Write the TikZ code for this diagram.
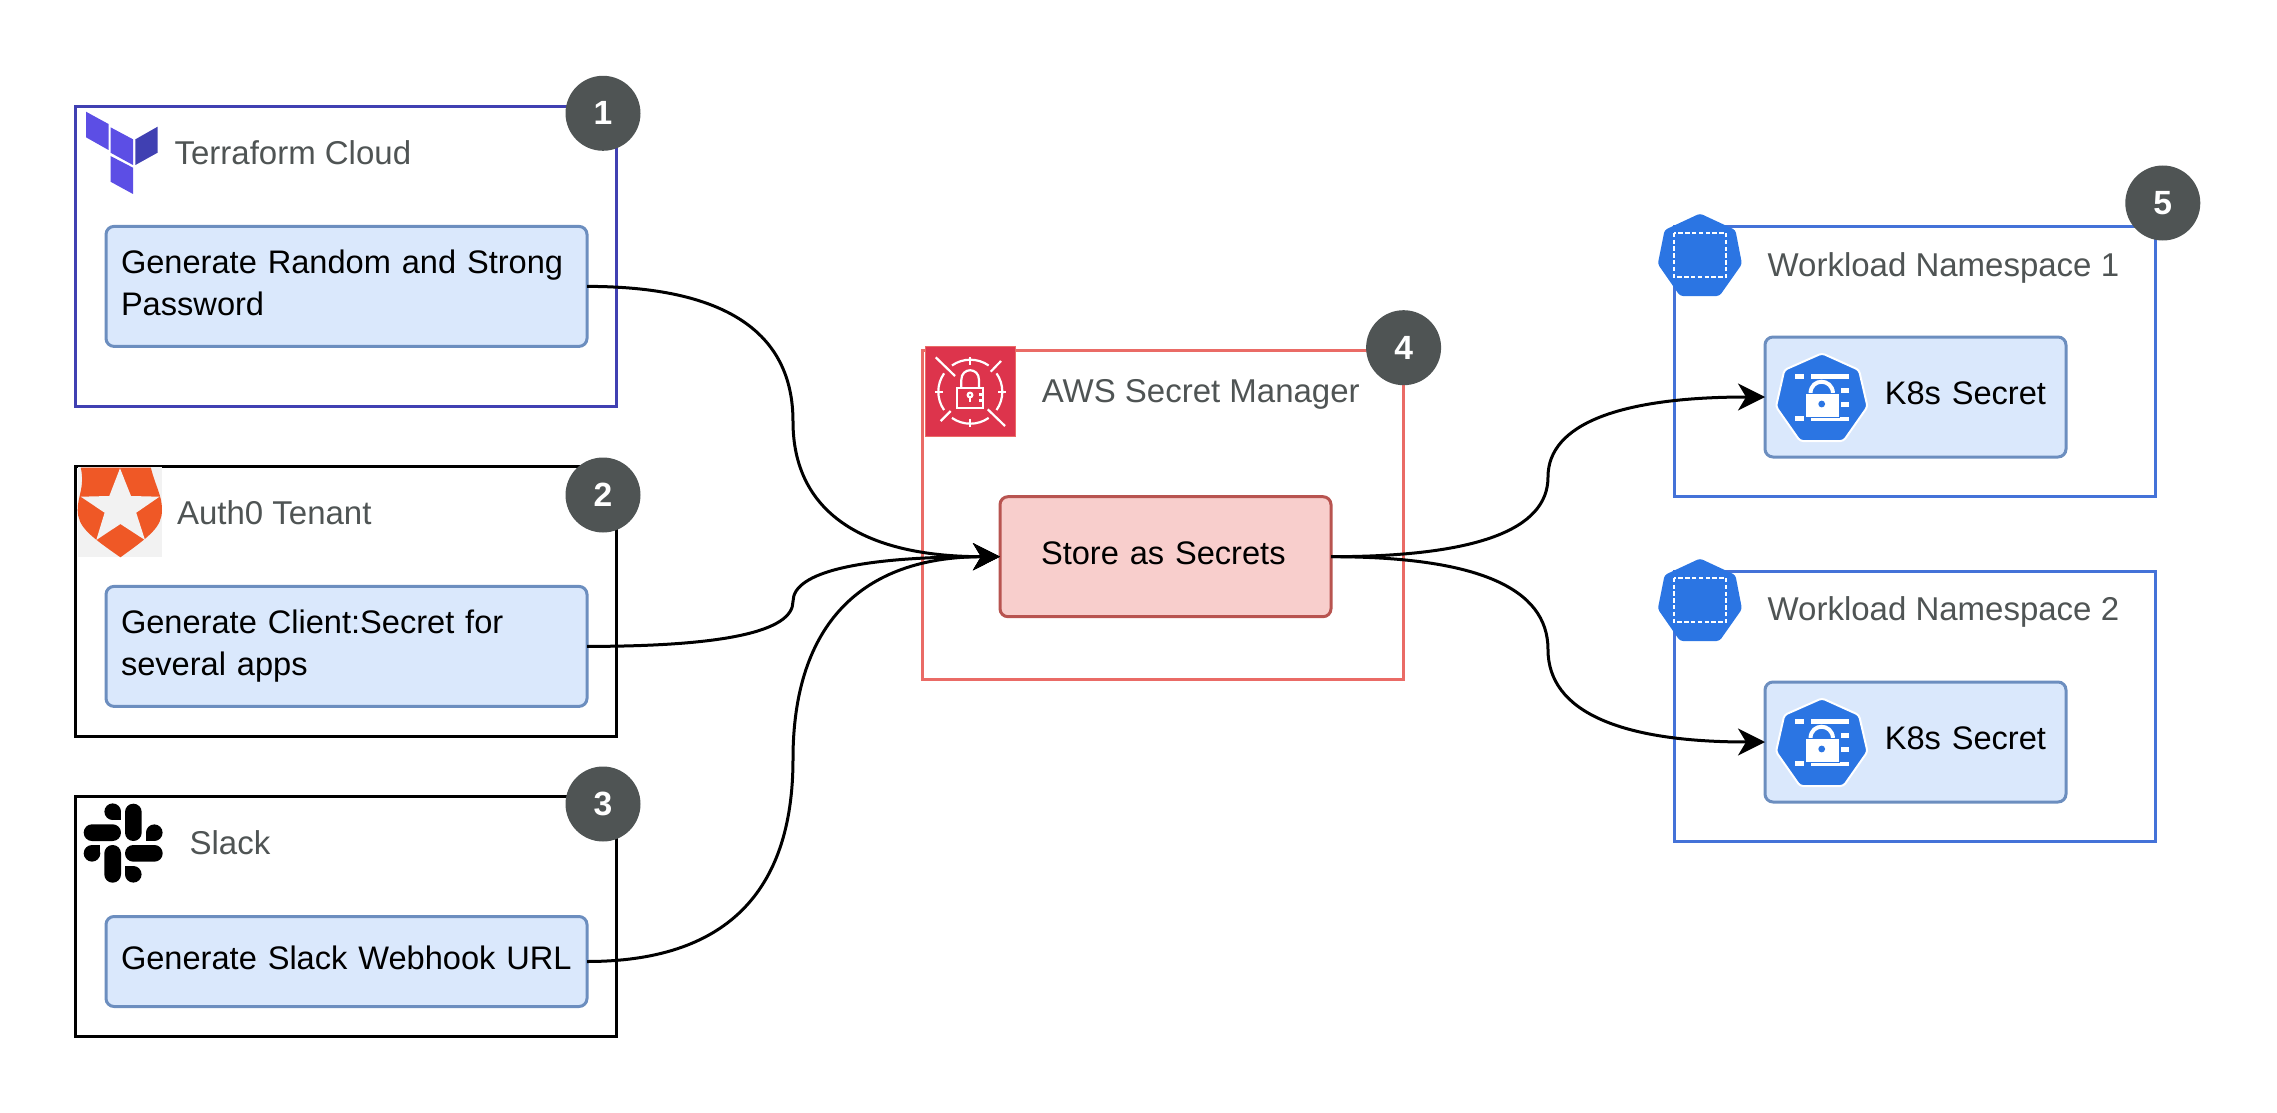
\documentclass[tikz,border=0pt]{standalone}
\usepackage{fontspec}
\setmainfont{Liberation Sans}
\usepackage{tikz}
\usetikzlibrary{arrows.meta,calc}

\definecolor{tone}{HTML}{4F5454}
\definecolor{tfdark}{HTML}{4040B2}
\definecolor{tfpurple}{HTML}{5C4EE5}
\definecolor{awsred}{HTML}{DD344C}
\definecolor{awsline}{HTML}{EA6B66}
\definecolor{kblue}{HTML}{2B75E3}
\definecolor{nsline}{HTML}{4472D8}
\definecolor{zorange}{HTML}{EF5826}
\definecolor{zgrey}{HTML}{F2F2F2}
\definecolor{bluefill}{HTML}{DAE8FC}
\definecolor{blueline}{HTML}{6C8EBF}
\definecolor{redfill}{HTML}{F8CECC}
\definecolor{redline}{HTML}{B85450}

\tikzset{
  base/.style={font=\fontsize{16.3}{21}\selectfont,outer sep=0pt},
  framebox/.style={base,draw,line width=1.5pt,rectangle},
  bluebox/.style={base,draw=blueline,fill=bluefill,line width=1.5pt,rounded corners=4pt},
  genbox/.style={bluebox,minimum width=240.5pt,text width=225.5pt,inner xsep=7.5pt,align=left,text depth=4pt},
  secbox/.style={bluebox,minimum width=150.5pt,minimum height=60pt,text width=130.5pt,inner xsep=10pt,align=right,text depth=3.5pt},
  storebox/.style={base,draw=redline,fill=redfill,line width=1.5pt,rounded corners=4pt,minimum width=165.5pt,minimum height=60pt,text width=124.5pt,inner xsep=20.5pt,align=left,text depth=3.5pt},
  title/.style={base,font=\fontsize{16.5}{21}\selectfont,anchor=west,inner sep=0pt,text=tone},
  badge/.style={circle,fill=tone,text=white,minimum size=37.5pt,inner sep=0pt,font=\fontsize{16.8}{20}\selectfont\bfseries},
  awsline/.style={white,line width=1.1pt},
  link/.style={line width=1.5pt,black,-{Stealth[length=13.5pt,width=13.5pt,inset=4pt]}}
}

\newcommand{\nsicon}[1]{
\begin{scope}[shift={(0,#1)}]
\fill[kblue,rounded corners=1.5pt] (1700,213.5) -- (1735.4,230) -- (1742,264) -- (1719.5,296) -- (1680,296) -- (1657.8,264) -- (1664.6,230) -- cycle;
\draw[white,line width=1pt,dash pattern=on 2.2pt off 1.2pt] (1674.4,232.7) rectangle (1725.8,277.3);
\end{scope}
}

\newcommand{\secreticon}[1]{
\begin{scope}[shift={(0,#1)}]
\filldraw[kblue,draw=white,line width=1pt,rounded corners=1.5pt] (1822,353.3) -- (1859,370) -- (1867.5,406.7) -- (1843.5,441) -- (1800,441) -- (1776,406.7) -- (1784.3,370) -- cycle;
\fill[white] (1795,374.3) rectangle (1804.3,379.3);
\fill[white] (1811,374.3) rectangle (1849,379.3);
\fill[white] (1841,387.7) rectangle (1849,392.7);
\fill[white] (1841,401.7) rectangle (1849,406.7);
\fill[white] (1795,415.7) rectangle (1804.3,420.7);
\fill[white] (1811,416.7) rectangle (1849,420.7);
\draw[white,line width=2pt] (1810.5,393) .. controls (1811,378) and (1832,378) .. (1833,393);
\filldraw[white,draw=kblue,line width=0.5pt] (1805,393.3) rectangle (1839.3,417);
\fill[kblue] (1821.7,404) circle (3.4);
\end{scope}
}

\begin{document}
\begin{tikzpicture}[x=0.5pt,y=-0.5pt]
\useasboundingbox (0,0) rectangle (2277,1113);

\node[framebox,draw=tfdark,minimum width=270.5pt,minimum height=150pt] (cloud) at (346.2,256.7) {};
\node[framebox,draw=black,minimum width=270.5pt,minimum height=135pt] (tenant) at (346.2,601) {};
\node[framebox,draw=black,minimum width=270.5pt,minimum height=120pt] (slack) at (346.2,916) {};
\node[framebox,draw=awsline,minimum width=240.5pt,minimum height=164.5pt] (manager) at (1162.5,514.5) {};
\node[framebox,draw=nsline,minimum width=240.4pt,minimum height=135pt] (nsa) at (1915.3,361) {};
\node[framebox,draw=nsline,minimum width=240.4pt,minimum height=135pt] (nsb) at (1915.3,706) {};

\fill[tfpurple] (86,111.7) -- (108.5,124) -- (108.5,150) -- (86,137.3) -- cycle;
\fill[tfpurple] (110.5,127.3) -- (133,139.3) -- (133,165) -- (110.5,152.7) -- cycle;
\fill[tfdark] (135.4,139.3) -- (157.6,126.7) -- (157.6,152.7) -- (135.4,165) -- cycle;
\fill[tfpurple] (110.5,156) -- (133,167.7) -- (133,194) -- (110.5,181.7) -- cycle;

\fill[zgrey] (77.7,467) rectangle (162,557);
\fill[zorange] (80.8,467.5) -- (150.8,467.5) .. controls (156,488) and (162,495) .. (162,510) .. controls (162,527) and (150,536) .. (120.4,557.3) .. controls (90,536) and (77.7,527) .. (77.7,510) .. controls (77.7,495) and (85,488) .. cycle;
\fill[zgrey] (120,468.3) -- (131,496) -- (159.5,496.7) -- (136.2,512.7) -- (145,540) -- (120.4,524) -- (96.3,540) -- (104.6,512.7) -- (80.8,496.7) -- (109.3,496) -- cycle;

\fill[black] (112.7,811.7) circle (8.3);
\fill[black] (112.7,811.7) rectangle (121,820);
\fill[black,rounded corners=4.15pt] (125,803.7) rectangle (141.7,841);
\fill[black,rounded corners=4.15pt] (83.7,824.3) rectangle (121,841);
\fill[black] (154.3,832.7) circle (8.3);
\fill[black] (146,832.7) rectangle (154.3,841);
\fill[black] (92,853.3) circle (8.3);
\fill[black] (92,845) rectangle (100.3,853.3);
\fill[black,rounded corners=4.15pt] (104.3,845) rectangle (121,882.7);
\fill[black,rounded corners=4.15pt] (125,845) rectangle (162.7,861.7);
\fill[black] (133.3,874.3) circle (8.3);
\fill[black] (125,866) rectangle (133.3,874.3);

\filldraw[awsred,draw=awsline,line width=0.5pt] (925.7,346.7) rectangle (1015,436.7);
\coordinate (hub) at (970.3,391.7);
\draw[awsline] ([shift={(hub)}]-35:32) arc[start angle=-35,end angle=35,radius=32];
\draw[awsline] ([shift={(hub)}]55:32) arc[start angle=55,end angle=125,radius=32];
\draw[awsline] ([shift={(hub)}]145:32) arc[start angle=145,end angle=215,radius=32];
\draw[awsline] ([shift={(hub)}]235:32) arc[start angle=235,end angle=305,radius=32];
\draw[awsline] (970.3,357) -- (970.3,365);
\draw[awsline] (970.3,418.5) -- (970.3,426.5);
\draw[awsline] (935,391.7) -- (943,391.7);
\draw[awsline] (998,391.7) -- (1006,391.7);
\draw[awsline] (935.7,357.3) -- (955,376);
\draw[awsline] (987.7,409.3) -- (1005,426);
\draw[awsline] (990.7,371.7) -- (1001,361);
\draw[awsline] (940.7,421) -- (950.7,411);
\draw[awsline] (957,387.7) rectangle (983.3,407.7);
\draw[awsline] (961.3,387.7) -- (961.3,380) .. controls (961.3,367) and (979,367) .. (979,380) -- (979,387.7);
\draw[awsline] (970,395) circle (2.3);
\draw[awsline] (970,397.5) -- (970,402);
\draw[awsline] (983,394.5) -- (979,394.5);
\draw[awsline] (983,400.5) -- (979,400.5);

\nsicon{0}
\nsicon{345}

\node[title] (cloudname) at (174.6,153) {Terraform Cloud};
\node[title] (tenantname) at (177,513) {Auth0 Tenant};
\node[title] (slackname) at (189.6,843) {Slack};
\node[title] (managername) at (1041.8,394) {AWS Secret Manager};
\node[title] (nsaname) at (1767.6,268) {Workload Namespace 1};
\node[title] (nsbname) at (1767.6,612) {Workload Namespace 2};

\node[genbox,minimum height=60pt,text depth=25pt] (gena) at (346.5,286.4) {Generate Random and Strong\\Password};
\node[genbox,minimum height=60pt,text depth=25pt] (genb) at (346.5,646.4) {Generate Client:Secret for\\several apps};
\node[genbox,minimum height=45pt] (genc) at (346.5,961.5) {Generate Slack Webhook URL};
\node[storebox] (store) at (1165.5,556.7) {Store as Secrets};
\node[secbox] (seca) at (1915.5,397) {K8s Secret};
\node[secbox] (secb) at (1915.5,742) {K8s Secret};

\secreticon{0}
\secreticon{345}

\coordinate (ma) at (793,421.5);
\coordinate (mb) at (793,601.5);
\coordinate (mc) at (793,759);
\coordinate (md) at (1548,477);
\coordinate (me) at (1548,649.5);

\draw[link] (gena.east) .. controls +(137,0) and +(0,-90) .. (ma) .. controls +(0,90) and +(-138,0) .. (store.west);
\draw[link] (genb.east) .. controls +(137,0) and +(0,30) .. (mb) .. controls +(0,-30) and +(-138,0) .. (store.west);
\draw[link] (genc.east) .. controls +(137,0) and +(0,135) .. (mc) .. controls +(0,-135) and +(-138,0) .. (store.west);
\draw[link] (store.east) .. controls +(145,0) and +(0,53) .. (md) .. controls +(0,-53) and +(-145,0) .. (seca.west);
\draw[link] (store.east) .. controls +(145,0) and +(0,-62) .. (me) .. controls +(0,62) and +(-145,0) .. (secb.west);

\node[badge] (one) at (603,113.3) {1};
\node[badge] (two) at (603,495) {2};
\node[badge] (three) at (603,804) {3};
\node[badge] (four) at (1403.6,347.7) {4};
\node[badge] (five) at (2162.8,203) {5};

\end{tikzpicture}
\end{document}
